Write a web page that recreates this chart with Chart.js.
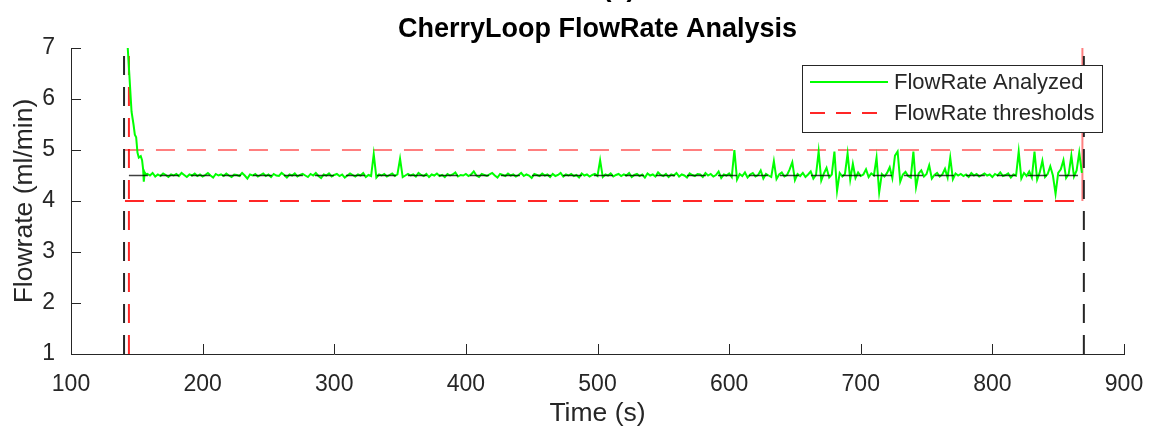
<!DOCTYPE html>
<html>
<head>
<meta charset="utf-8">
<title>CherryLoop FlowRate Analysis</title>
<script src="https://cdn.jsdelivr.net/npm/chart.js@4.4.1/dist/chart.umd.min.js"></script>
<style>
  body { margin: 0; background: #fff; }
  #wrap { width: 1151px; height: 430px; }
</style>
</head>
<body>
<div id="wrap"><canvas id="myChart" width="1151" height="430"></canvas></div>
<script>
// start-up transient (s, ml/min)
const decayTimes = [143, 144.5, 146, 147.5, 148.5, 149.5, 150.5, 151.5, 153, 154, 154.8, 155.3, 156, 157];
const decayFlow = [7.05, 6.4, 5.75, 5.5, 5.3, 5.25, 4.95, 4.85, 4.88, 4.8, 4.62, 4.38, 4.56, 4.52];

// steady part, one sample every 2 s starting at 158 s
const steadyStart = 158;
const sampleStep = 2;
const steadyFlow = [
  4.53, 4.50, 4.55, 4.48, 4.52, 4.49, 4.54, 4.51, 4.47, 4.52,
  4.50, 4.53, 4.49, 4.55, 4.51, 4.47, 4.52, 4.50, 4.54, 4.49,
  4.52, 4.48, 4.51, 4.55, 4.50, 4.46, 4.53, 4.50, 4.52, 4.49,
  4.54, 4.50, 4.47, 4.52, 4.51, 4.49, 4.55, 4.50, 4.44, 4.52,
  4.50, 4.53, 4.48, 4.51, 4.54, 4.49, 4.52, 4.47, 4.53, 4.50,
  4.49, 4.55, 4.51, 4.46, 4.52, 4.50, 4.54, 4.48, 4.51, 4.53,
  4.50, 4.47, 4.53, 4.50, 4.55, 4.49, 4.45, 4.52, 4.50, 4.54,
  4.48, 4.51, 4.53, 4.49, 4.52, 4.46, 4.50, 4.54, 4.51, 4.48,
  4.52, 4.50, 4.55, 4.47, 4.51, 4.49, 4.92, 4.46, 4.52, 4.50,
  4.53, 4.48, 4.51, 4.54, 4.49, 4.52, 4.83, 4.47, 4.50, 4.53,
  4.50, 4.52, 4.48, 4.55, 4.51, 4.49, 4.53, 4.47, 4.52, 4.50,
  4.54, 4.49, 4.51, 4.47, 4.53, 4.50, 4.52, 4.56, 4.48, 4.51,
  4.50, 4.53, 4.49, 4.52, 4.58, 4.50, 4.47, 4.53, 4.51, 4.49,
  4.52, 4.55, 4.50, 4.46, 4.53, 4.51, 4.49, 4.54, 4.50, 4.52,
  4.48, 4.51, 4.55, 4.49, 4.52, 4.50, 4.45, 4.53, 4.51, 4.49,
  4.54, 4.50, 4.52, 4.47, 4.53, 4.49, 4.51, 4.55, 4.48, 4.52,
  4.50, 4.53, 4.49, 4.51, 4.46, 4.54, 4.50, 4.52, 4.48, 4.51,
  4.53, 4.49, 4.80, 4.47, 4.52, 4.50, 4.54, 4.48, 4.51, 4.53,
  4.49, 4.52, 4.50, 4.55, 4.47, 4.51, 4.53, 4.49, 4.52, 4.46,
  4.54, 4.50, 4.52, 4.48, 4.56, 4.51, 4.49, 4.53, 4.47, 4.52,
  4.50, 4.55, 4.48, 4.52, 4.50, 4.46, 4.54, 4.51, 4.49, 4.53,
  4.52, 4.47, 4.55, 4.50, 4.53, 4.48, 4.51, 4.58, 4.45, 4.52,
  4.50, 4.54, 4.47, 5.00, 4.42, 4.53, 4.49, 4.56, 4.46, 4.52,
  4.55, 4.48, 4.51, 4.60, 4.44, 4.53, 4.50, 4.47, 4.78, 4.43,
  4.52, 4.56, 4.48, 4.51, 4.62, 4.76, 4.41, 4.53, 4.49, 4.55,
  4.47, 4.52, 4.58, 4.44, 4.51, 4.97, 4.40, 4.54, 4.65, 4.46,
  4.52, 4.97, 4.20, 4.55, 4.48, 4.53, 4.93, 4.42, 4.73, 4.45,
  4.56, 4.49, 4.52, 4.62, 4.47, 4.54, 4.50, 4.85, 4.17, 4.53,
  4.48, 4.55, 4.66, 4.45, 4.89, 4.97, 4.38, 4.52, 4.57, 4.49,
  4.46, 4.97, 4.27, 4.54, 4.60, 4.48, 4.53, 4.70, 4.44, 4.51,
  4.55, 4.48, 4.52, 4.63, 4.46, 4.85, 4.43, 4.54, 4.50, 4.53,
  4.49, 4.52, 4.47, 4.55, 4.50, 4.53, 4.48, 4.51, 4.54, 4.50,
  4.52, 4.47, 4.53, 4.50, 4.56, 4.49, 4.51, 4.54, 4.46, 4.52,
  4.50, 4.97, 4.44, 4.55, 4.49, 4.58, 4.46, 4.97, 4.42, 4.56,
  4.79, 4.47, 4.53, 4.68, 4.50, 4.14, 4.55, 4.62, 4.80, 4.45,
  4.53, 4.89, 4.48, 4.60, 4.95, 4.55
];

const meanFlow = 4.5;
const meanSpan = [144, 868];
const lowThreshold = 4;
const highThreshold = 5;
const thresholdSpan = [141, 868];
const blackMarkers = [140.3, 869.5];
const redMarkerLeft = 144;
const redMarkerRight = 868.4;

const legendLabels = ['FlowRate Analyzed', 'FlowRate thresholds'];

const flowPoints = decayTimes.map((t, i) => ({ x: t, y: decayFlow[i] }))
  .concat(steadyFlow.map((v, i) => ({ x: steadyStart + i * sampleStep, y: v })));

const axisColor = '#262626';
const fontFamily = '"Liberation Sans", Arial, sans-serif';
const dash = [19, 12];

function hLine(level, span) {
  return [{ x: span[0], y: level }, { x: span[1], y: level }];
}
function vLine(t, from, to) {
  return [{ x: t, y: from }, { x: t, y: to }];
}

// inward tick marks + legend box + clipped panel label
const decorations = {
  id: 'decorations',
  afterDatasetsDraw(chart) {
    const { ctx, scales: { x, y } } = chart;
    ctx.save();
    ctx.strokeStyle = axisColor;
    ctx.lineWidth = 1;
    x.ticks.forEach(t => {
      const px = Math.round(x.getPixelForValue(t.value)) + 0.5;
      ctx.beginPath();
      ctx.moveTo(px, y.bottom);
      ctx.lineTo(px, y.bottom - 10);
      ctx.stroke();
    });
    y.ticks.forEach(t => {
      const py = Math.round(y.getPixelForValue(t.value)) + 0.5;
      ctx.beginPath();
      ctx.moveTo(x.left, py);
      ctx.lineTo(x.left + 10, py);
      ctx.stroke();
    });
    ctx.restore();
  },
  afterDraw(chart) {
    const { ctx } = chart;
    ctx.save();
    // legend
    const bx = 802.5, by = 65.5, bw = 300, bh = 67;
    ctx.fillStyle = '#fff';
    ctx.fillRect(bx, by, bw, bh);
    ctx.strokeStyle = axisColor;
    ctx.lineWidth = 1;
    ctx.strokeRect(bx, by, bw, bh);

    ctx.lineWidth = 2;
    ctx.strokeStyle = '#00ff00';
    ctx.beginPath();
    ctx.moveTo(810, 82);
    ctx.lineTo(888, 82);
    ctx.stroke();
    ctx.strokeStyle = 'rgba(255,0,0,0.85)';
    ctx.setLineDash([15, 11]);
    ctx.beginPath();
    ctx.moveTo(810, 113);
    ctx.lineTo(888, 113);
    ctx.stroke();
    ctx.setLineDash([]);

    ctx.fillStyle = axisColor;
    ctx.font = '22px ' + fontFamily;
    ctx.textBaseline = 'middle';
    ctx.textAlign = 'left';
    ctx.fillText(legendLabels[0], 894, 83);
    ctx.fillText(legendLabels[1], 894, 114);

    // panel label, cut off by the top edge
    ctx.fillStyle = '#000';
    ctx.font = 'bold 27px ' + fontFamily;
    ctx.textAlign = 'center';
    ctx.textBaseline = 'alphabetic';
    ctx.fillText('(a)', 619, -4);
    ctx.restore();
  }
};

const ctx = document.getElementById('myChart').getContext('2d');

const myChart = new Chart(ctx, {
  type: 'line',
  data: {
    datasets: [
      {
        label: 'mean',
        data: hLine(meanFlow, meanSpan),
        borderColor: 'rgba(0,0,0,0.75)',
        borderWidth: 1.5,
        borderDash: dash,
        order: 0
      },
      {
        label: legendLabels[0],
        data: flowPoints,
        borderColor: '#00ff00',
        borderWidth: 2,
        order: 1
      },
      {
        label: 'start',
        data: vLine(blackMarkers[0], 1, 7),
        borderColor: '#262626',
        borderWidth: 2,
        borderDash: dash,
        order: 2
      },
      {
        label: 'end',
        data: vLine(blackMarkers[1], 1, 7),
        borderColor: '#262626',
        borderWidth: 2,
        borderDash: dash,
        order: 2
      },
      {
        label: legendLabels[1],
        data: hLine(lowThreshold, thresholdSpan),
        borderColor: 'rgba(255,0,0,0.85)',
        borderWidth: 2,
        borderDash: dash,
        order: 3
      },
      {
        label: 'upper',
        data: hLine(highThreshold, thresholdSpan),
        borderColor: 'rgba(255,0,0,0.5)',
        borderWidth: 2,
        borderDash: dash,
        order: 3
      },
      {
        label: 'red start',
        data: vLine(redMarkerLeft, 1, 7),
        borderColor: 'rgba(255,0,0,0.85)',
        borderWidth: 2,
        borderDash: dash,
        order: 3
      },
      {
        label: 'red end',
        data: vLine(redMarkerRight, 4, 7),
        borderColor: 'rgba(255,0,0,0.5)',
        borderWidth: 2,
        order: 3
      }
    ]
  },
  options: {
    responsive: false,
    animation: false,
    elements: { point: { radius: 0 }, line: { tension: 0 } },
    layout: { padding: { left: 0, right: 27, top: 0, bottom: 0 } },
    plugins: {
      legend: { display: false },
      tooltip: { enabled: false },
      title: {
        display: true,
        fullSize: false,
        text: 'CherryLoop FlowRate Analysis',
        color: '#000',
        font: { family: fontFamily, size: 27, weight: 'bold' },
        padding: { top: 13, bottom: 2.6 }
      }
    },
    scales: {
      x: {
        type: 'linear',
        min: 100,
        max: 900,
        ticks: {
          stepSize: 100,
          color: axisColor,
          padding: 9,
          font: { family: fontFamily, size: 23 }
        },
        grid: { display: false },
        border: { display: true, color: axisColor, width: 1 },
        title: {
          display: true,
          text: 'Time (s)',
          color: axisColor,
          padding: { top: 0, bottom: 0 },
          font: { family: fontFamily, size: 26.5 }
        },
        afterFit(scale) {
          scale.height = 76;
          scale.paddingLeft = 0;
          scale.paddingRight = 0;
        }
      },
      y: {
        min: 1,
        max: 7,
        ticks: {
          stepSize: 1,
          color: axisColor,
          padding: 8,
          font: { family: fontFamily, size: 23 }
        },
        grid: { display: false },
        border: { display: true, color: axisColor, width: 1 },
        title: {
          display: true,
          text: 'Flowrate (ml/min)',
          color: axisColor,
          padding: { top: 9, bottom: 0 },
          font: { family: fontFamily, size: 26.5 }
        },
        afterFit(scale) {
          scale.width = 71;
          scale.paddingTop = 0;
          scale.paddingBottom = 0;
        }
      }
    }
  },
  plugins: [decorations]
});
</script>
</body>
</html>
